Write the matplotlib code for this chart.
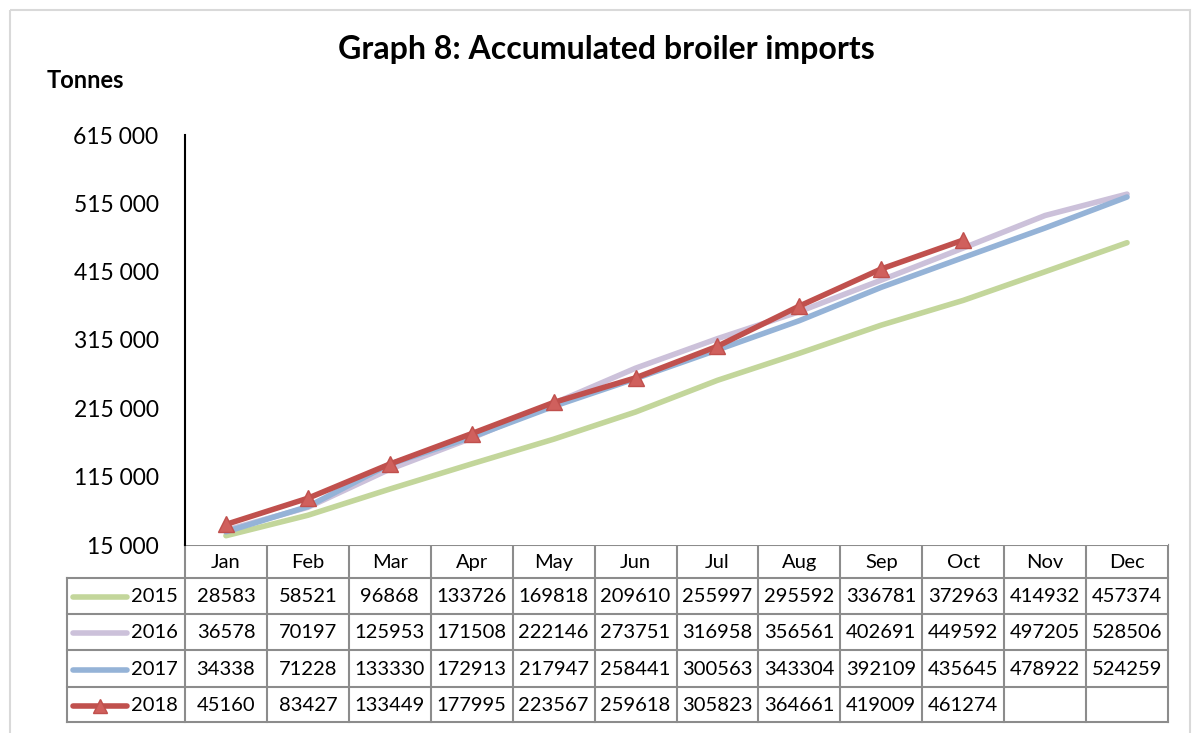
import numpy as np
import matplotlib.pyplot as plt
from matplotlib.ticker import FuncFormatter

plt.rcParams['font.family'] = ['Lato', 'DejaVu Sans']

months = ['Jan', 'Feb', 'Mar', 'Apr', 'May', 'Jun', 'Jul', 'Aug', 'Sep', 'Oct', 'Nov', 'Dec']
years = ['2015', '2016', '2017', '2018']
imp_2015 = [28583, 58521, 96868, 133726, 169818, 209610, 255997, 295592, 336781, 372963, 414932, 457374]
imp_2016 = [36578, 70197, 125953, 171508, 222146, 273751, 316958, 356561, 402691, 449592, 497205, 528506]
imp_2017 = [34338, 71228, 133330, 172913, 217947, 258441, 300563, 343304, 392109, 435645, 478922, 524259]
imp_2018 = [45160, 83427, 133449, 177995, 223567, 259618, 305823, 364661, 419009, 461274]
y_ticks = [15000, 115000, 215000, 315000, 415000, 515000, 615000]

series = [imp_2015, imp_2016, imp_2017, imp_2018]
colors = ['#C3D69B', '#CCC1DA', '#95B3D7', '#C0504D']
markers = [None, None, None, '^']

W, H = 1202, 733
fig = plt.figure(figsize=(W / 100, H / 100), dpi=100)

# => pixel-coordinate overlay for frame and table
L, R, T, B = 185, 1168, 135, 545
row_edges = [545, 578, 614, 650, 687, 722]
lab_left = 67

bg = fig.add_axes([0, 0, 1, 1])
bg.set_xlim(0, W)
bg.set_ylim(H, 0)
bg.axis('off')
bg.add_patch(plt.Rectangle((10, 10), 1180, 740, fill=False, ec='#D9D9D9', lw=1.5))

ax = fig.add_axes([L / W, 1 - B / H, (R - L) / W, (B - T) / H])
x = np.arange(len(months))
for vals, c, m in zip(series, colors, markers):
    ax.plot(x[:len(vals)], vals, color=c, lw=4, marker=m, ms=11,
            mfc='#D0605D' if m else None, mec=c, solid_capstyle='round')
ax.set_xlim(-0.5, len(months) - 0.5)
ax.set_ylim(y_ticks[0], y_ticks[-1])
ax.set_yticks(y_ticks)
ax.yaxis.set_major_formatter(FuncFormatter(lambda v, p: f'{int(v):,}'.replace(',', ' ')))
ax.tick_params(axis='y', length=0, labelsize=16.5, pad=19)
ax.set_xticks([])
for s in ['top', 'right', 'bottom']:
    ax.spines[s].set_visible(False)
ax.spines['left'].set_linewidth(1.5)

fig.text(606 / W, 1 - 50 / H, 'Graph 8: Accumulated broiler imports', ha='center', va='center',
         fontsize=23, fontweight='bold')
fig.text(47 / W, 1 - 80 / H, 'Tonnes', ha='left', va='center', fontsize=17, fontweight='bold')

# => data table
gc = '#8C8C8C'
cw = (R - L) / len(months)
col_edges = [L + i * cw for i in range(len(months) + 1)]
bg.plot([L, R], [row_edges[0], row_edges[0]], color=gc, lw=1.5)
for yy in row_edges[1:]:
    bg.plot([lab_left, R], [yy, yy], color=gc, lw=1.5)
bg.plot([lab_left, lab_left], [row_edges[1], row_edges[-1]], color=gc, lw=1.5)
for xx in col_edges:
    bg.plot([xx, xx], [row_edges[0], row_edges[-1]], color=gc, lw=1.5)

for i, mname in enumerate(months):
    bg.text(col_edges[i] + cw / 2, (row_edges[0] + row_edges[1]) / 2 + 1, mname,
            ha='center', va='center', fontsize=14.5)

for r, (yr, vals, c, m) in enumerate(zip(years, series, colors, markers)):
    yc = (row_edges[r + 1] + row_edges[r + 2]) / 2 + 1
    bg.plot([73, 127], [yc, yc], color=c, lw=4, solid_capstyle='round')
    if m:
        bg.plot([100], [yc], marker=m, ms=10, color=c, mfc='#D0605D')
    bg.text(178, yc, yr, ha='right', va='center', fontsize=14.5)
    for i, v in enumerate(vals):
        bg.text(col_edges[i] + cw / 2, yc, str(v), ha='center', va='center', fontsize=14.5)

fig.savefig('out.png', dpi=100)
